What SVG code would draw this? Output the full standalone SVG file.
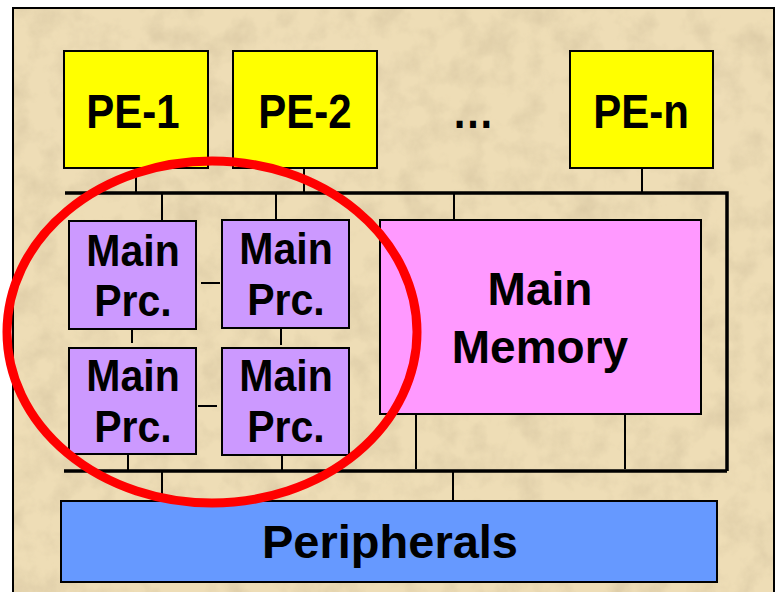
<svg xmlns="http://www.w3.org/2000/svg" width="779" height="592" viewBox="0 0 779 592">
  <defs>
    <filter id="parchment" x="0" y="0" width="100%" height="100%">
      <feTurbulence type="fractalNoise" baseFrequency="0.035" numOctaves="4" seed="7" result="noise"/>
      <feColorMatrix in="noise" type="matrix" values="0 0 0 0 0.55  0 0 0 0 0.45  0 0 0 0 0.28  0 0 0 1.1 -0.45" result="spots"/>
      <feComposite in="spots" in2="SourceGraphic" operator="in"/>
    </filter>
    <style>
      .lbl { font-family: "Liberation Sans", Arial, sans-serif; font-weight: bold; fill: #000; text-anchor: middle; }
      .box { stroke: #000; stroke-width: 2; }
      .pe { fill: #FFFF00; }
      .prc { fill: #CC99FF; }
      .mem { fill: #FF99FF; }
      .per { fill: #6699FF; }
      .bus { stroke: #000; stroke-width: 3.5; fill: none; }
      .wire { stroke: #000; stroke-width: 2; fill: none; }
    </style>
  </defs>

  <!-- page and parchment panel -->
  <rect x="0" y="0" width="779" height="592" fill="#ffffff"/>
  <rect x="13" y="8" width="761" height="600" fill="#EEDDB6"/>
  <rect x="13" y="8" width="761" height="600" fill="#EEDDB6" filter="url(#parchment)" opacity="0.7"/>
  <rect x="13" y="8" width="761" height="600" fill="none" stroke="#000" stroke-width="2"/>

  <!-- buses and links -->
  <g id="connectors">
    <path class="bus" d="M65 193 H727 V471 M64 471 H727"/>
    <path class="wire" d="M136 168 V193 M304 168 V193 M642 168 V193"/>
    <path class="wire" d="M162 193 V221 M276 193 V220 M454 193 V220"/>
    <path class="wire" d="M201 283 H220 M198 406 H217"/>
    <path class="wire" d="M132 329 V343 M281 328 V345"/>
    <path class="wire" d="M128 454 V471 M282 451 V471"/>
    <path class="wire" d="M416 414 V469 M625 414 V469"/>
    <path class="wire" d="M162 471 V501 M453 471 V501"/>
  </g>

  <g id="pe-1">
    <rect class="box pe" x="64" y="51" width="144" height="117"/>
    <text class="lbl" font-size="42" transform="translate(133,128) scale(1,1.15)">PE-1</text>
  </g>
  <g id="pe-2">
    <rect class="box pe" x="233" y="51" width="144" height="117"/>
    <text class="lbl" font-size="42" transform="translate(305,128) scale(1,1.15)">PE-2</text>
  </g>
  <g id="ellipsis">
    <text class="lbl" font-size="42" transform="translate(473,128) scale(1,1.15)">…</text>
  </g>
  <g id="pe-n">
    <rect class="box pe" x="570" y="51" width="143" height="117"/>
    <text class="lbl" font-size="42" transform="translate(641,128) scale(1,1.15)">PE-n</text>
  </g>

  <g id="prc-1">
    <rect class="box prc" x="69" y="221" width="127" height="108"/>
    <text class="lbl" font-size="41" transform="translate(133,266) scale(1,1.09)">Main</text>
    <text class="lbl" font-size="41" transform="translate(133,316) scale(1,1.09)">Prc.</text>
  </g>
  <g id="prc-2">
    <rect class="box prc" x="222" y="220" width="127" height="108"/>
    <text class="lbl" font-size="41" transform="translate(286,264) scale(1,1.09)">Main</text>
    <text class="lbl" font-size="41" transform="translate(286,315) scale(1,1.09)">Prc.</text>
  </g>
  <g id="prc-3">
    <rect class="box prc" x="69" y="348" width="127" height="106"/>
    <text class="lbl" font-size="41" transform="translate(133,391) scale(1,1.09)">Main</text>
    <text class="lbl" font-size="41" transform="translate(133,442) scale(1,1.09)">Prc.</text>
  </g>
  <g id="prc-4">
    <rect class="box prc" x="222" y="348" width="127" height="107"/>
    <text class="lbl" font-size="41" transform="translate(286,391) scale(1,1.09)">Main</text>
    <text class="lbl" font-size="41" transform="translate(286,442) scale(1,1.09)">Prc.</text>
  </g>

  <g id="main-memory">
    <rect class="box mem" x="380" y="220" width="321" height="194"/>
    <text class="lbl" font-size="46" x="540" y="305">Main</text>
    <text class="lbl" font-size="46" x="540" y="363">Memory</text>
  </g>

  <g id="peripherals">
    <rect class="box per" x="61" y="501" width="656" height="81"/>
    <text class="lbl" font-size="47" x="390" y="558">Peripherals</text>
  </g>

  <!-- highlight ring round the processor cluster -->
  <g id="highlight">
    <ellipse cx="212" cy="332" rx="205" ry="171" fill="none" stroke="#FF0000" stroke-width="9"/>
  </g>
</svg>
